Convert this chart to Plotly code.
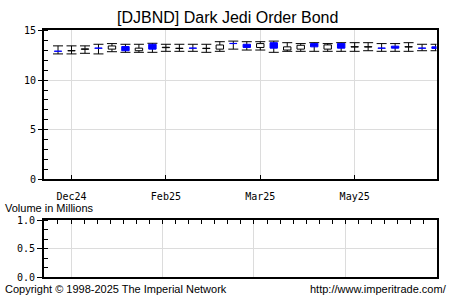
import plotly.graph_objects as go

# ---- data ----
periods = list(range(29))
opens = [12.92, 12.95, 13.10, 13.23, 13.12, 13.38, 12.96, 13.61, 13.27, 13.19,
         13.23, 13.18, 13.12, 13.70, 13.61, 13.29, 13.77, 13.03, 13.12, 13.68,
         13.12, 13.68, 13.33, 13.33, 13.23, 13.42, 13.33, 13.23, 13.35]
highs = [13.45, 13.45, 13.45, 13.61, 13.68, 13.61, 13.61, 13.71, 13.61, 13.61,
         13.61, 13.61, 13.87, 13.93, 13.87, 13.87, 13.93, 13.77, 13.68, 13.77,
         13.68, 13.77, 13.77, 13.77, 13.68, 13.68, 13.77, 13.61, 13.61]
lows = [12.64, 12.64, 12.70, 12.64, 12.86, 12.80, 12.80, 12.80, 12.90, 12.90,
        12.90, 12.80, 12.90, 13.12, 13.03, 13.03, 12.80, 12.90, 12.90, 12.90,
        12.90, 12.90, 12.90, 12.96, 12.90, 12.90, 12.90, 12.96, 12.96]
closes = [12.90, 12.97, 13.15, 13.21, 13.44, 12.96, 13.22, 13.12, 13.31, 13.21,
          13.21, 13.21, 13.54, 13.68, 13.29, 13.68, 13.22, 13.35, 13.51, 13.35,
          13.55, 13.22, 13.37, 13.37, 13.21, 13.22, 13.37, 13.21, 13.19]

tick_idx = [1, 8, 15, 22]
tick_labels = ["Dec24", "Feb25", "Mar25", "May25"]
price_ticks = [0, 5, 10, 15]
vol_ticks = [0, 0.5, 1.0]
vol_tick_labels = ["0.0", "0.5", "1.0"]

title_text = "[DJBND] Dark Jedi Order Bond"
vol_title = "Volume in Millions"
copyright_text = "Copyright \u00a9 1998-2025 The Imperial Network"
url_text = "http://www.imperitrade.com/"

BLUE = "#0000ff"
GRID = "#dcdcdc"
W, H = 454, 302

mids = [(h + l) / 2 for h, l in zip(highs, lows)]
half = [(h - l) / 2 for h, l in zip(highs, lows)]
body_base = [min(o, c) for o, c in zip(opens, closes)]
body_size = [abs(c - o) for o, c in zip(opens, closes)]
up = [c >= o for o, c in zip(opens, closes)]
fill = ["white" if u else BLUE for u in up]
edge = ["black" if u else BLUE for u in up]

fig = go.Figure()
# whiskers with caps (transparent bars carrying error bars)
fig.add_trace(go.Bar(
    x=periods, y=mids, width=0.55,
    marker=dict(color="rgba(0,0,0,0)", line=dict(width=0)),
    error_y=dict(type="data", array=half, symmetric=True, width=5,
                 thickness=1, color="black"),
    hoverinfo="skip", showlegend=False, xaxis="x", yaxis="y"))
# bodies
fig.add_trace(go.Bar(
    x=periods, y=body_size, base=body_base, width=0.55,
    marker=dict(color=fill, line=dict(color=edge, width=1)),
    showlegend=False, xaxis="x", yaxis="y"))
# empty volume panel
fig.add_trace(go.Scatter(x=[], y=[], xaxis="x2", yaxis="y2", showlegend=False))

tickfont = dict(family="DejaVu Sans Mono", size=10, color="black")

def px_x(p):
    return p / W

def px_y(p):
    return 1 - p / H

fig.update_layout(
    width=W, height=H,
    margin=dict(l=0, r=0, t=0, b=0),
    paper_bgcolor="white", plot_bgcolor="white",
    barmode="overlay",
    xaxis=dict(domain=[px_x(44), px_x(436.5)], range=[-1.04, 28.07],
               tickvals=tick_idx, ticktext=tick_labels, tickfont=tickfont,
               ticks="inside", ticklen=4, tickcolor="black",
               ticklabelstandoff=7,
               showgrid=True, gridcolor=GRID, gridwidth=1,
               showline=True, linecolor="black", linewidth=2, mirror=True,
               zeroline=False, anchor="y"),
    yaxis=dict(domain=[px_y(180.5), px_y(25.5)], range=[0, 15],
               tickvals=price_ticks, tickfont=tickfont,
               ticks="outside", ticklen=4, tickcolor="black",
               minor=dict(dtick=1, tick0=0, ticks="inside", ticklen=4,
                          tickcolor="black", showgrid=False),
               showgrid=True, gridcolor=GRID, gridwidth=1,
               showline=True, linecolor="black", linewidth=2, mirror=True,
               zeroline=False, anchor="x"),
    xaxis2=dict(domain=[px_x(44), px_x(436.5)], range=[-1.07, 28.97],
                tickvals=tick_idx, showticklabels=False, side="top",
                ticks="inside", ticklen=4, tickcolor="black",
                minor=dict(dtick=1, tick0=0, ticks="inside", ticklen=4,
                           tickcolor="black", showgrid=False),
                showgrid=True, gridcolor=GRID, gridwidth=1,
                showline=True, linecolor="black", linewidth=2, mirror=True,
                zeroline=False, anchor="y2"),
    yaxis2=dict(domain=[px_y(282.5), px_y(223)], range=[0, 1],
                tickvals=vol_ticks, ticktext=vol_tick_labels, tickfont=tickfont,
                ticks="outside", ticklen=5, tickcolor="black",
                minor=dict(dtick=1/6, tick0=0, ticks="inside", ticklen=4,
                           tickcolor="black", showgrid=False),
                showgrid=True, gridcolor=GRID, gridwidth=1,
                showline=True, linecolor="black", linewidth=2, mirror=True,
                zeroline=False, anchor="x2"),
    annotations=[
        dict(text=title_text, x=0.5, y=px_y(12), xref="paper", yref="paper",
             xanchor="center", yanchor="middle", showarrow=False,
             font=dict(family="Liberation Sans", size=16, color="black")),
        dict(text=vol_title, x=px_x(3), y=px_y(210), xref="paper", yref="paper",
             xanchor="left", yanchor="middle", showarrow=False,
             font=dict(family="Liberation Sans", size=11, color="black")),
        dict(text=copyright_text, x=px_x(3), y=px_y(295), xref="paper", yref="paper",
             xanchor="left", yanchor="middle", showarrow=False,
             font=dict(family="Liberation Sans", size=11, color="black")),
        dict(text=url_text, x=px_x(449), y=px_y(295), xref="paper", yref="paper",
             xanchor="right", yanchor="middle", showarrow=False,
             font=dict(family="Liberation Sans", size=11, color="black")),
    ],
)

fig.write_html("out.html")
